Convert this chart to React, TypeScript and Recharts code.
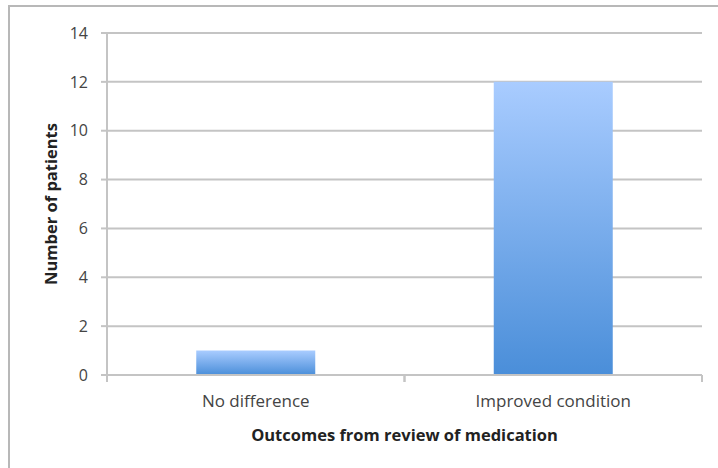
import React from 'react';
import { BarChart, Bar, XAxis, YAxis, CartesianGrid } from 'recharts';

const outcomes = ['No difference', 'Improved condition'];
const patientCounts = [1, 12];
const yTicks = [0, 2, 4, 6, 8, 10, 12, 14];

const data = outcomes.map((outcome, i) => ({ outcome, patients: patientCounts[i] }));

const FONT = '"Open Sans", sans-serif';
const AXIS_GREY = '#c4c4c4';

// Category label centred under the bar, with Excel-style tick marks on the category boundaries
const CategoryTick = (props: any) => {
  const { x, y, payload } = props;
  const half = payload.offset || 0;
  return (
    <g>
      <line x1={x - half} y1={y - 8} x2={x - half} y2={y - 1} stroke={AXIS_GREY} strokeWidth={2} />
      <line x1={x + half} y1={y - 8} x2={x + half} y2={y - 1} stroke={AXIS_GREY} strokeWidth={2} />
      <text x={x} y={y + 24} textAnchor="middle" fill="#444" fontSize={17} fontFamily={FONT}>
        {payload.value}
      </text>
    </g>
  );
};

export default function App() {
  return (
    <div
      style={{
        position: 'fixed',
        left: 0,
        top: 0,
        width: 718,
        height: 468,
        background: '#fff',
        overflow: 'hidden',
      }}
    >
      <div
        style={{
          position: 'absolute',
          left: 8,
          top: 5,
          width: 800,
          height: 600,
          borderLeft: '2px solid #b8b8b8',
          borderTop: '2px solid #b8b8b8',
        }}
      />
      <div style={{ position: 'absolute', left: 0, top: 0 }}>
        <BarChart
          width={718}
          height={468}
          data={data}
          margin={{ top: 33, right: 16, bottom: 0, left: 0 }}
          barCategoryGap="30%"
        >
          <defs>
            <linearGradient id="barFill" x1="0" y1="0" x2="0" y2="1">
              <stop offset="0%" stopColor="#a9ccff" />
              <stop offset="100%" stopColor="#4a8ed9" />
            </linearGradient>
          </defs>
          <CartesianGrid vertical={false} stroke={AXIS_GREY} strokeWidth={2} />
          <XAxis
            dataKey="outcome"
            height={93}
            axisLine={{ stroke: AXIS_GREY, strokeWidth: 2 }}
            tickLine={false}
            tick={<CategoryTick />}
            interval={0}
            label={{
              value: 'Outcomes from review of medication',
              position: 'insideBottom',
              offset: 27,
              fill: '#222',
              fontSize: 16.5,
              fontWeight: 700,
              fontFamily: FONT,
            }}
          />
          <YAxis
            width={107}
            domain={[0, 14]}
            ticks={yTicks}
            interval={0}
            axisLine={{ stroke: AXIS_GREY, strokeWidth: 2 }}
            tickLine={{ stroke: AXIS_GREY, strokeWidth: 2 }}
            tickSize={6}
            tickMargin={13}
            tick={{ fill: '#444', fontSize: 16, fontFamily: FONT }}
            label={{
              value: 'Number of patients',
              angle: -90,
              position: 'center',
              dx: -2,
              fill: '#222',
              fontSize: 16.5,
              fontWeight: 700,
              fontFamily: FONT,
            }}
          />
          <Bar dataKey="patients" fill="url(#barFill)" isAnimationActive={false} />
        </BarChart>
      </div>
    </div>
  );
}
